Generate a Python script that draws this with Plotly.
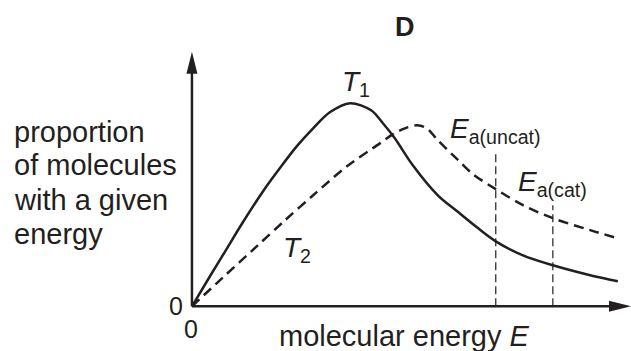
import plotly.graph_objects as go

# ---- data (arbitrary units: molecular energy 0..10, proportion 0..10) ----
t1_energy = [0, 0.41, 0.75, 1.16, 1.62, 2.00, 2.39, 2.76, 3.14, 3.60, 4.08, 4.35, 4.62,
             5.03, 5.60, 6.04, 6.49, 6.92, 7.54, 8.22, 9.07, 9.70]
t1_proportion = [0, 1.18, 2.14, 3.30, 4.52, 5.42, 6.29, 6.99, 7.62, 7.98, 7.70, 7.19, 6.60,
                 5.54, 4.36, 3.73, 3.10, 2.55, 2.00, 1.61, 1.22, 0.98]

t2_energy = [0, 0.71, 1.48, 2.12, 2.76, 3.53, 4.28, 4.58, 4.85, 5.13, 5.35, 5.60, 6.04, 6.40,
             6.92, 7.54, 8.22, 9.07, 9.70]
t2_proportion = [0, 1.14, 2.36, 3.38, 4.36, 5.50, 6.40, 6.76, 6.99, 7.11, 6.99, 6.52, 5.78, 5.19,
                 4.60, 3.97, 3.46, 2.99, 2.67]

ea_labels = ["a(uncat)", "a(cat)"]
ea_energy = [6.92, 8.22]
ea_top = [6.05, 3.97]

axis_max_x = 10.0
axis_max_y = 10.0

INK = "#231f20"
FONT = "Liberation Sans, Arial, Helvetica, sans-serif"

W, H = 631, 351
ML, MR, MT, MB = 170, 0, 39, 32
PW, PH = W - ML - MR, H - MT - MB


def px(x):
    return (x - ML) / PW


def py(y):
    return (H - MB - y) / PH


fig = go.Figure()

fig.add_trace(go.Scatter(x=t1_energy, y=t1_proportion, mode="lines",
                         line=dict(color=INK, width=2.5, shape="spline", smoothing=0.9),
                         hoverinfo="skip", showlegend=False))
fig.add_trace(go.Scatter(x=t2_energy, y=t2_proportion, mode="lines",
                         line=dict(color=INK, width=2.5, dash="10px,6px", shape="spline", smoothing=0.9),
                         hoverinfo="skip", showlegend=False))

for lab, e, top in zip(ea_labels, ea_energy, ea_top):
    fig.add_trace(go.Scatter(x=[e, e], y=[0, top], mode="lines",
                             line=dict(color=INK, width=1.2, dash="8px,4px"),
                             hoverinfo="skip", showlegend=False))
    fig.add_annotation(x=e, y=top, xref="x", yref="y", xanchor="center", yanchor="bottom",
                       yshift=2, showarrow=False,
                       text="<i>E</i><sub>" + lab + "</sub>",
                       font=dict(family=FONT, size=28, color=INK))

shapes = [
    dict(type="line", xref="x", yref="y", x0=0, y0=0, x1=axis_max_x - 0.3, y1=0,
         line=dict(color=INK, width=2.5)),
    dict(type="line", xref="x", yref="y", x0=0, y0=0, x1=0, y1=axis_max_y - 0.6,
         line=dict(color=INK, width=2.5)),
    dict(type="path", xref="x", yref="y", xsizemode="pixel", ysizemode="pixel",
         xanchor=axis_max_x, yanchor=0, path="M 0 0 L -22 5.5 L -22 -5.5 Z",
         fillcolor=INK, line=dict(width=0)),
    dict(type="path", xref="x", yref="y", xsizemode="pixel", ysizemode="pixel",
         xanchor=0, yanchor=axis_max_y, path="M 0 0 L -5.5 -22 L 5.5 -22 Z",
         fillcolor=INK, line=dict(width=0)),
]

ann = []
ann.append(dict(x=px(405), y=py(27), text="<b>D</b>", font=dict(size=27)))
ann.append(dict(x=px(356), y=py(83), text="<i>T</i><sub>1</sub>", font=dict(size=28)))
ann.append(dict(x=px(297), y=py(249), text="<i>T</i><sub>2</sub>", font=dict(size=28)))
ann.append(dict(x=px(176), y=py(306), text="0", font=dict(size=25)))
ann.append(dict(x=px(191), y=py(329), text="0", font=dict(size=25)))
ann.append(dict(x=px(404), y=py(336), text="molecular energy <i>E</i>", font=dict(size=29)))
ylines = ["proportion", "of molecules", "with a given", "energy"]
ycent = [132, 165, 200, 234]
for t, yc in zip(ylines, ycent):
    ann.append(dict(x=px(12), y=py(yc), text=t, xanchor="left", font=dict(size=29)))

for a in ann:
    a.setdefault("xanchor", "center")
    a["yanchor"] = "middle"
    a["xref"] = "paper"
    a["yref"] = "paper"
    a["showarrow"] = False
    a["font"].update(family=FONT, color=INK)
    fig.add_annotation(**a)

fig.update_layout(
    width=W, height=H,
    margin=dict(l=ML, r=MR, t=MT, b=MB),
    paper_bgcolor="white", plot_bgcolor="white",
    shapes=shapes,
    xaxis=dict(range=[-0.5, 10.0], visible=False, fixedrange=True),
    yaxis=dict(range=[-0.5, 10.5], visible=False, fixedrange=True),
    showlegend=False,
)

fig.write_html("out.html", config={"displayModeBar": False},
               post_script="document.body.style.margin='0';")
